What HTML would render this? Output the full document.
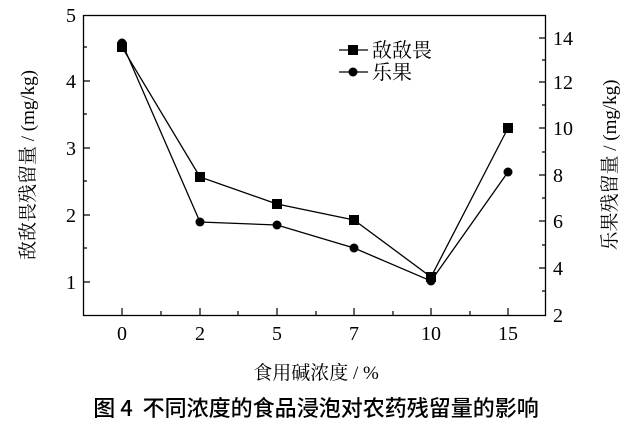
<!DOCTYPE html>
<html><head><meta charset="utf-8"><style>body{margin:0;background:#fff}</style></head><body>
<svg width="641" height="423" xmlns="http://www.w3.org/2000/svg" font-family="'Liberation Serif','Noto Serif CJK SC',serif" fill="#000">
<rect x="83.5" y="15.5" width="462" height="300" fill="none" stroke="#000" stroke-width="1.3"/>
<g stroke="#000" stroke-width="1.2">
<path d="M83 282h7M83 215h7M83 148h7M83 81h7M83 248h4M83 181h4M83 114h4M83 47h4"/>
<path d="M546 268h-7M546 221h-7M546 175h-7M546 128h-7M546 82h-7M546 38h-7M546 291h-4M546 245h-4M546 198h-4M546 152h-4M546 105h-4M546 60h-4"/>
<path d="M122 315v-7M200 315v-7M277 315v-7M354 315v-7M431 315v-7M508 315v-7M161 315v-4M238 315v-4M316 315v-4M393 315v-4M470 315v-4"/>
</g>
<g font-size="20" text-anchor="end"><text x="76" y="22">5</text><text x="76" y="88">4</text><text x="76" y="155">3</text><text x="76" y="222">2</text><text x="76" y="289">1</text></g>
<g font-size="20"><text x="553" y="45">14</text><text x="553" y="89">12</text><text x="553" y="135">10</text><text x="553" y="182">8</text><text x="553" y="228">6</text><text x="553" y="275">4</text><text x="553" y="322">2</text></g>
<g font-size="20" text-anchor="middle"><text x="122" y="340">0</text><text x="200" y="340">2</text><text x="277" y="340">5</text><text x="354" y="340">7</text><text x="431" y="340">10</text><text x="508" y="340">15</text></g>
<g fill="none" stroke="#000" stroke-width="1.3">
<polyline points="122,47 200,177 277,204 354,220 431,277 508,128"/>
<polyline points="122,43 200,222 277,225 354,248 431,281 508,172"/>
<path d="M339 50h29M339 72h29"/>
</g>
<g><rect x="117" y="42" width="10" height="10"/><rect x="195" y="172" width="10" height="10"/><rect x="272" y="199" width="10" height="10"/><rect x="349" y="215" width="10" height="10"/><rect x="426" y="272" width="10" height="10"/><rect x="503" y="123" width="10" height="10"/><rect x="348" y="45" width="10" height="10"/></g>
<g><circle cx="122" cy="43" r="4.5"/><circle cx="200" cy="222" r="4.5"/><circle cx="277" cy="225" r="4.5"/><circle cx="354" cy="248" r="4.5"/><circle cx="431" cy="281" r="4.5"/><circle cx="508" cy="172" r="4.5"/><circle cx="353" cy="72" r="4.5"/></g>
<g font-size="20" font-family="'Noto Serif CJK SC',serif"><text x="372" y="57">敌敌畏</text><text x="372" y="79">乐果</text></g>
<text x="316" y="379" font-size="19" text-anchor="middle">食用碱浓度 / %</text>
<text transform="translate(34,165) rotate(-90)" font-size="19" text-anchor="middle">敌敌畏残留量 / (mg/kg)</text>
<text transform="translate(616,165) rotate(-90)" font-size="19" text-anchor="middle">乐果残留量 / (mg/kg)</text>
<text x="316" y="416" font-size="22" font-weight="500" text-anchor="middle" font-family="'Noto Sans CJK SC',sans-serif" xml:space="preserve">图 4  不同浓度的食品浸泡对农药残留量的影响</text>
</svg>
</body></html>
